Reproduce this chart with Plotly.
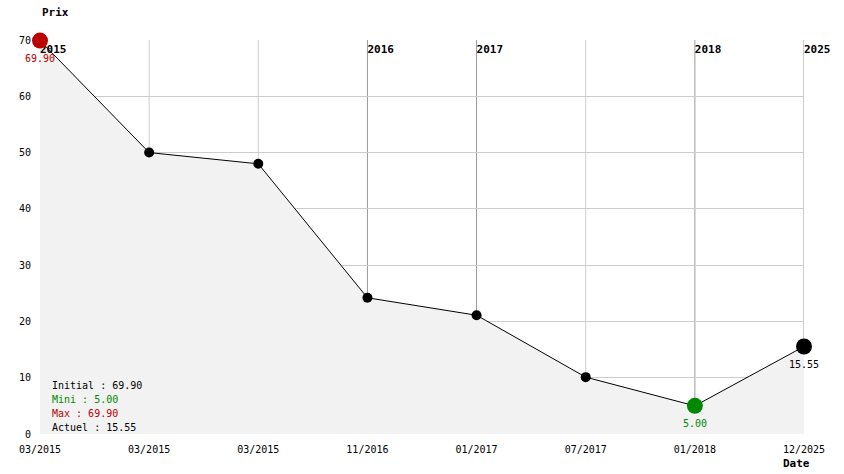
import plotly.graph_objects as go

dates = ["03/2015", "03/2015", "03/2015", "11/2016", "01/2017", "07/2017", "01/2018", "12/2025"]
prices = [69.90, 50.00, 48.00, 24.20, 21.10, 10.10, 5.00, 15.55]
year_idx = [0, 3, 4, 6, 7]
year_labels = ["2015", "2016", "2017", "2018", "2025"]
stats_labels = ["Initial : 69.90", "Mini : 5.00", "Max : 69.90", "Actuel : 15.55"]
stats_colors = ["#000000", "#008800", "#bb0000", "#000000"]

MONO = "DejaVu Sans Mono"
xs = list(range(len(dates)))

fig = go.Figure()

# vertical grid / year boundary lines
for i in xs:
    col = "#999999" if i in year_idx else "#cccccc"
    fig.add_shape(type="line", x0=i, x1=i, y0=0, y1=70, xref="x", yref="y",
                  line=dict(color=col, width=1), layer="below")

# filled area + line
fig.add_trace(go.Scatter(
    x=xs, y=prices, mode="lines", fill="tozeroy", fillcolor="#f2f2f2",
    line=dict(color="#000000", width=1), hoverinfo="skip", cliponaxis=False))

# year labels (drawn below markers)
inner = [k for k, i in enumerate(year_idx) if i < xs[-1]]
outer = [k for k, i in enumerate(year_idx) if i >= xs[-1]]
for group, clip in [(inner, True), (outer, False)]:
    fig.add_trace(go.Scatter(
        x=[year_idx[k] for k in group], y=[68.2] * len(group), mode="text",
        text=[year_labels[k] for k in group], textposition="middle right",
        textfont=dict(family=MONO, size=11, color="#000000", weight="bold"),
        cliponaxis=clip, hoverinfo="skip"))

# regular markers
fig.add_trace(go.Scatter(
    x=xs[1:-1], y=prices[1:-1], mode="markers",
    marker=dict(color="#000000", size=10), cliponaxis=False, hoverinfo="skip"))

imax = prices.index(max(prices))
imin = prices.index(min(prices))
ilast = len(prices) - 1

fig.add_trace(go.Scatter(x=[ilast], y=[prices[ilast]], mode="markers",
                         marker=dict(color="#000000", size=16), cliponaxis=False))
fig.add_trace(go.Scatter(x=[imin], y=[prices[imin]], mode="markers",
                         marker=dict(color="#008800", size=16), cliponaxis=False))
fig.add_trace(go.Scatter(x=[imax], y=[prices[imax]], mode="markers",
                         marker=dict(color="#bb0000", size=16), cliponaxis=False))

# value labels under special points
for i, col in [(imax, "#bb0000"), (imin, "#008800"), (ilast, "#000000")]:
    fig.add_annotation(x=i, y=prices[i], text=f"{prices[i]:.2f}", showarrow=False,
                       yshift=-18, font=dict(family=MONO, size=10, color=col))

# stats box text
for k, (t, c) in enumerate(zip(stats_labels, stats_colors)):
    fig.add_annotation(xref="paper", yref="paper", x=(50 - 40) / 764, y=(434 - (385 + 14 * k)) / 394,
                       xanchor="left", yanchor="middle", text=t, showarrow=False,
                       font=dict(family=MONO, size=10, color=c))

# axis titles
fig.add_annotation(xref="paper", yref="paper", x=0, y=(434 - 12) / 394, xanchor="left",
                   yanchor="middle", text="<b>Prix</b>", showarrow=False,
                   font=dict(family=MONO, size=11, color="#000000"))
fig.add_annotation(xref="paper", yref="paper", x=(812 - 40) / 764, y=(434 - 463) / 394,
                   xanchor="right", yanchor="middle", text="<b>Date</b>", showarrow=False,
                   font=dict(family=MONO, size=11, color="#000000"))

fig.update_layout(
    width=844, height=474,
    margin=dict(l=40, r=40, t=40, b=40),
    paper_bgcolor="#ffffff", plot_bgcolor="#ffffff",
    showlegend=False,
    font=dict(family=MONO, size=10, color="#000000"),
    xaxis=dict(range=[0, 7], tickvals=xs, ticktext=dates, showgrid=False,
               zeroline=False, showline=False,
               ticks="", ticklabelstandoff=8, fixedrange=True),
    yaxis=dict(range=[0, 70], tickvals=list(range(0, 71, 10)), showgrid=True,
               gridcolor="#cccccc", gridwidth=1, zeroline=False, showline=False,
               ticks="", ticklabelstandoff=8, fixedrange=True),
)

fig.write_html("out.html", config={"displayModeBar": False},
               post_script="document.body.style.margin='0';document.body.style.overflow='hidden';")
